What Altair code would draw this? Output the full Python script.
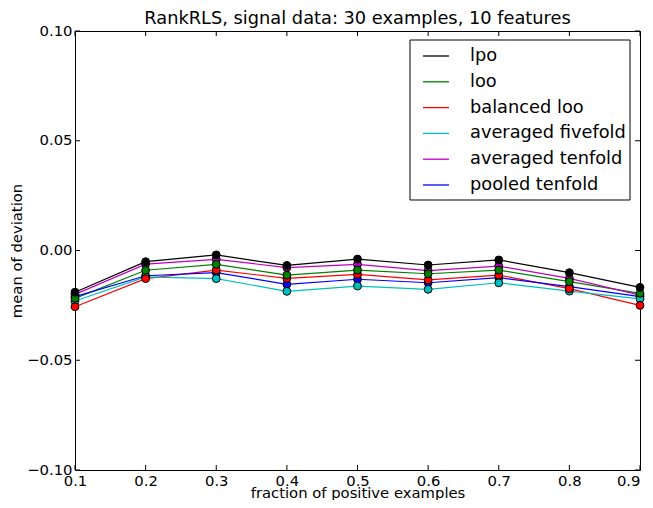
import altair as alt
import pandas as pd

# ---- data ----
title_text = "RankRLS, signal data: 30 examples, 10 features"
x_vals = [0.1, 0.2, 0.3, 0.4, 0.5, 0.6, 0.7, 0.8, 0.9]
series_names = ["lpo", "loo", "balanced loo", "averaged fivefold",
                "averaged tenfold", "pooled tenfold"]
series_colors = ["#000000", "#008000", "#ff0000", "#00bfbf", "#bf00bf", "#0000ff"]

lpo = [-0.0190, -0.0051, -0.0020, -0.0068, -0.0039, -0.0066, -0.0043, -0.0101, -0.0168]
loo = [-0.0218, -0.0090, -0.0063, -0.0112, -0.0089, -0.0106, -0.0089, -0.0142, -0.0195]
balanced_loo = [-0.0256, -0.0128, -0.0089, -0.0127, -0.0109, -0.0134, -0.0112, -0.0174, -0.0250]
averaged_fivefold = [-0.0230, -0.0120, -0.0128, -0.0186, -0.0162, -0.0177, -0.0147, -0.0185, -0.0220]
averaged_tenfold = [-0.0200, -0.0062, -0.0040, -0.0078, -0.0063, -0.0092, -0.0071, -0.0127, -0.0203]
pooled_tenfold = [-0.0210, -0.0115, -0.0101, -0.0154, -0.0131, -0.0147, -0.0124, -0.0165, -0.0210]
series_values = [lpo, loo, balanced_loo, averaged_fivefold, averaged_tenfold, pooled_tenfold]

x_ticks = [0.1, 0.2, 0.3, 0.4, 0.5, 0.6, 0.7, 0.8, 0.9]
y_ticks = [-0.10, -0.05, 0.00, 0.05, 0.10]

rows = []
n = len(series_names)
for i, (name, vals) in enumerate(zip(series_names, series_values)):
    for xv, v in zip(x_vals, vals):
        rows.append({"fraction": xv, "deviation": v, "series": name, "z": n - i})
df = pd.DataFrame(rows)

W, H = 565, 439
FONT = "DejaVu Sans"

xscale = alt.Scale(domain=[0.1, 0.9], nice=False, zero=False)
yscale = alt.Scale(domain=[-0.1, 0.1], nice=False, zero=False)

x_axis = alt.Axis(values=x_ticks, format=".1f", ticks=False, tickSize=0, domain=False,
                  grid=False, labelFontSize=14.8, labelPadding=3, labelColor="black",
                  labelFont=FONT,
                  labelAlign={"condition": {"test": "datum.value >= 0.85", "value": "right"},
                              "value": "center"},
                  title="fraction of positive examples",
                  titleFontSize=14.8, titleFontWeight="normal", titleFont=FONT,
                  titleColor="black", titleY=27, titleBaseline="alphabetic")
y_axis = alt.Axis(values=y_ticks, format=".2f", ticks=False, tickSize=0, domain=False,
                  grid=False, labelFontSize=14.8, labelPadding=3, labelColor="black",
                  labelFont=FONT, title="mean of deviation",
                  titleFontSize=14.8, titleFontWeight="normal", titleFont=FONT,
                  titleColor="black", titleX=-58, titleY=219.5, titleAngle=-90,
                  titleBaseline="middle", titleAlign="center")

cscale = alt.Scale(domain=series_names, range=series_colors)
color = alt.Color(
    "series:N",
    scale=cscale,
    legend=alt.Legend(orient="none", legendX=347, legendY=11, title=None,
                      symbolType="stroke", symbolSize=676, symbolStrokeWidth=1.3,
                      labelFontSize=17.8, labelFont=FONT, labelColor="black",
                      labelOffset=20, rowPadding=2.8, padding=0, labelLimit=400),
)

base = alt.Chart(df)
lines = base.mark_line(strokeWidth=1.2).encode(
    x=alt.X("fraction:Q", scale=xscale, axis=x_axis),
    y=alt.Y("deviation:Q", scale=yscale, axis=y_axis),
    color=color,
)
points = base.mark_circle(size=62, opacity=1, stroke="black", strokeWidth=1).encode(
    x=alt.X("fraction:Q", scale=xscale, axis=x_axis),
    y=alt.Y("deviation:Q", scale=yscale, axis=y_axis),
    color=color,
    order=alt.Order("z:Q"),
)

xt = pd.DataFrame({"t": x_ticks})
yt = pd.DataFrame({"t": y_ticks})
TL = 5
tick_bottom = alt.Chart(xt).mark_rule(color="black", strokeWidth=1).encode(
    x=alt.X("t:Q", scale=xscale, axis=x_axis), y=alt.value(H), y2=alt.value(H - TL))
tick_top = alt.Chart(xt).mark_rule(color="black", strokeWidth=1).encode(
    x=alt.X("t:Q", scale=xscale, axis=x_axis), y=alt.value(0), y2=alt.value(TL))
tick_left = alt.Chart(yt).mark_rule(color="black", strokeWidth=1).encode(
    y=alt.Y("t:Q", scale=yscale, axis=y_axis), x=alt.value(0), x2=alt.value(TL))
tick_right = alt.Chart(yt).mark_rule(color="black", strokeWidth=1).encode(
    y=alt.Y("t:Q", scale=yscale, axis=y_axis), x=alt.value(W), x2=alt.value(W - TL))

legend_box = alt.Chart(pd.DataFrame({"a": [0]})).mark_rect(
    fill="white", stroke="black", strokeWidth=1).encode(
    x=alt.value(335), x2=alt.value(555), y=alt.value(9), y2=alt.value(169))

title_mark = alt.Chart(pd.DataFrame({"label": [title_text]})).mark_text(
    font=FONT, fontSize=17.8, color="black", align="center", baseline="alphabetic"
).encode(text="label:N", x=alt.value(W / 2), y=alt.value(-7))

chart = alt.layer(
    lines, points, tick_bottom, tick_top, tick_left, tick_right, legend_box, title_mark
).properties(
    width=W, height=H,
    background="white",
    autosize=alt.AutoSizeParams(type="none"),
    padding={"left": 67, "top": 23, "right": 5, "bottom": 30},
).configure_view(
    stroke="black", strokeWidth=1
)

chart.save("out.html", embed_options={"renderer": "svg", "actions": False})
